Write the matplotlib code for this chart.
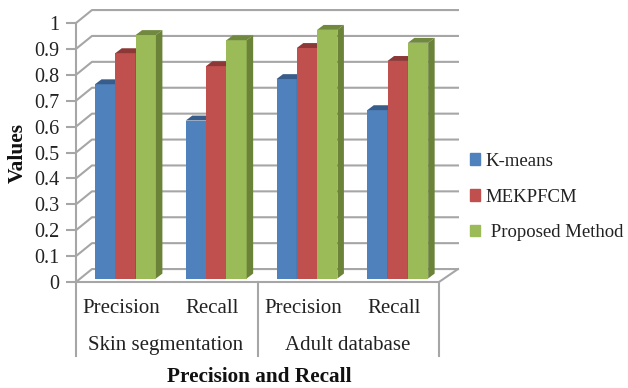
import matplotlib
matplotlib.use('Agg')
import matplotlib.pyplot as plt
from matplotlib.patches import Polygon, Patch
from matplotlib.transforms import blended_transform_factory

# values
categories = ['Precision', 'Recall', 'Precision', 'Recall']
groups = ['Skin segmentation', 'Adult database']
kmeans = [0.75, 0.61, 0.77, 0.65]
mekpfcm = [0.87, 0.82, 0.89, 0.84]
proposed = [0.94, 0.92, 0.96, 0.91]
y_ticks = [0, 0.1, 0.2, 0.3, 0.4, 0.5, 0.6, 0.7, 0.8, 0.9, 1]
y_labels = ['0', '0.1', '0.2', '0.3', '0.4', '0.5', '0.6', '0.7', '0.8', '0.9', '1']

colors = ['#4f81bd', '#c0504d', '#9bbb59']
tops = ['#385d8a', '#8c3836', '#71893f']
sides = ['#3a6090', '#8f3a38', '#6b8239']
grid_col = '#a6a6a6'
plt.rcParams['font.family'] = ['Liberation Serif', 'DejaVu Serif']

fig = plt.figure(figsize=(6.28, 3.88), dpi=100)
ax = fig.add_axes([76 / 628, 1 - 282 / 388, 363 / 628, 259 / 388])
ax.set_xlim(0, 4)
ax.set_ylim(0, 1)
for s in ['top', 'right', 'bottom']:
    ax.spines[s].set_visible(False)
ax.spines['left'].set_color(grid_col)
ax.spines['left'].set_linewidth(1.5)

# back wall and floor
wall_l, wall_r, wall_y = 0.176, 4.209, 0.05
for t in y_ticks:
    ax.plot([0, wall_l, wall_r], [t, t + wall_y, t + wall_y], color=grid_col, lw=1.5,
            clip_on=False, zorder=1)
ax.plot([0, 4, wall_r], [0, 0, wall_y], color=grid_col, lw=1.5, clip_on=False, zorder=1)

# bars with fake depth
bar_w = 0.2237
base = 0.0135
dx, dy = 0.0716, 0.019
for k, vals in enumerate([kmeans, mekpfcm, proposed]):
    for i, v in enumerate(vals):
        x = i + 0.545 + (k - 1) * bar_w
        ax.bar(x, v, bar_w, bottom=base, color=colors[k], zorder=3 + k, clip_on=False)
        x0, x1 = x - bar_w / 2, x + bar_w / 2
        top = base + v
        ax.add_patch(Polygon([(x0, top), (x1, top), (x1 + dx, top + dy), (x0 + dx, top + dy)],
                             closed=True, color=tops[k], lw=0, zorder=3 + k, clip_on=False))
        ax.add_patch(Polygon([(x1, base), (x1 + dx, base + dy), (x1 + dx, top + dy), (x1, top)],
                             closed=True, color=sides[k], lw=0, zorder=3 + k, clip_on=False))

ax.set_yticks(y_ticks)
ax.set_yticklabels(y_labels, fontsize=14.5, color='#222222')
ax.tick_params(axis='y', length=7, width=1.5, color=grid_col, pad=5)
ax.set_xticks([0.5, 1.5, 2.5, 3.5])
ax.set_xticklabels(categories, fontsize=15, color='#222222')
ax.tick_params(axis='x', length=0, pad=12)

# group labels and separators below the axis
trans = blended_transform_factory(ax.transData, ax.transAxes)
for xs in [0, 2, 4]:
    ax.plot([xs, xs], [0, -74 / 259], transform=trans, color=grid_col, lw=1.5, clip_on=False)
for i, g in enumerate(groups):
    ax.text(1 - 0.01 + 2 * i, -63.5 / 259, g, transform=trans, ha='center', va='center',
            fontsize=15, color='#222222')

fig.text(259 / 628, 1 - 377 / 388, 'Precision and Recall', ha='center', va='center',
         fontsize=15.3, fontweight='bold', color='#111111')
fig.text(18 / 628, 1 - 153 / 388, 'Values', ha='center', va='center', rotation=90,
         fontsize=15.5, fontweight='bold', color='#111111')

handles = [Patch(color=c) for c in colors]
fig.legend(handles, ['K-means', 'MEKPFCM', ' Proposed Method'], frameon=False,
           loc='center left', bbox_to_anchor=(470 / 628, 1 - 197 / 388),
           fontsize=13.5, handlelength=0.55, handleheight=0.55, handletextpad=0.3,
           labelspacing=1.0, borderpad=0, borderaxespad=0, labelcolor='#222222')

fig.savefig('out.png', dpi=100)
